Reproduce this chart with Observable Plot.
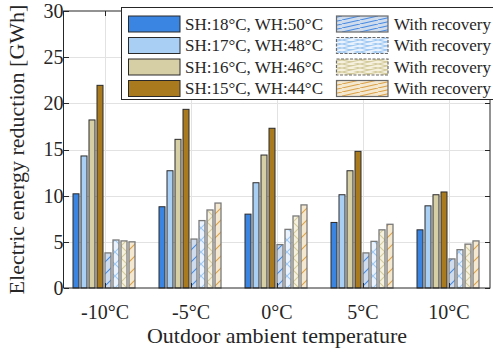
<!DOCTYPE html>
<html><head><meta charset="utf-8">
<script src="https://cdn.jsdelivr.net/npm/d3@7"></script>
<script src="https://cdn.jsdelivr.net/npm/@observablehq/plot@0.6"></script>
<style>
html,body{margin:0;padding:0;background:#fff;}
#chart{position:relative;width:493px;height:354px;overflow:hidden;}
</style></head><body><div id="chart"></div>
<script>
// ---- data ----
const temps = ["-10°C", "-5°C", "0°C", "5°C", "10°C"];
const keys = ["s18", "s17", "s16", "s15", "r18", "r17", "r16", "r15"];
const legendLabels = ["SH:18°C, WH:50°C", "SH:17°C, WH:48°C", "SH:16°C, WH:46°C", "SH:15°C, WH:44°C",
  "With recovery", "With recovery", "With recovery", "With recovery"];
const sh18 = [10.2, 8.8, 8.0, 7.1, 6.3];
const sh17 = [14.3, 12.7, 11.4, 10.1, 8.9];
const sh16 = [18.2, 16.1, 14.4, 12.7, 10.1];
const sh15 = [21.95, 19.35, 17.3, 14.8, 10.4];
const rec18 = [3.8, 5.3, 4.7, 3.8, 3.15];
const rec17 = [5.2, 7.3, 6.35, 5.05, 4.15];
const rec16 = [5.1, 8.45, 7.8, 6.3, 4.75];
const rec15 = [5.0, 9.2, 9.0, 6.9, 5.1];
const yTicks = [0, 5, 10, 15, 20, 25, 30];
const xLabel = "Outdoor ambient temperature";
const yLabel = "Electric energy reduction [GWh]";

// ---- styles ----
const solidColors = ["#3a85e2", "#aacff4", "#d6cea4", "#aa7a1e"];
const hatchBg = ["#cfdcee", "#eaf3fd", "#f6f1df", "#f5e8d0"];
const hatchLine = ["#4a8ce2", "#9fc8f2", "#d4cb9c", "#dba24a"];
const hatchKind = ["diag", "cross", "cross", "diag"];
const fills = [...solidColors, "url(#hp0)", "url(#hp1)", "url(#hp2)", "url(#hp3)"];

const seriesValues = [sh18, sh17, sh16, sh15, rec18, rec17, rec16, rec15];
const rows = [];
keys.forEach((k, i) => temps.forEach((t, j) => rows.push({temp: t, key: k, value: seriesValues[i][j], hatched: i >= 4})));

const FONT = "Liberation Serif, Times New Roman, serif";
const W = 493, H = 354;
const plot = Plot.plot({
  width: W, height: H,
  marginLeft: 64, marginRight: 3, marginTop: 11, marginBottom: 66,
  style: {fontFamily: FONT, fontSize: "20px", color: "#262626", background: "#fff", overflow: "visible"},
  fx: {domain: temps, paddingInner: 0.22, paddingOuter: 0.06, label: null, tickSize: 0, tickPadding: 16},
  x: {domain: keys, paddingInner: 0.2, paddingOuter: 0.08, axis: null},
  y: {domain: [0, 30], ticks: yTicks, tickSize: 0, tickPadding: 8, label: null},
  color: {domain: keys, range: fills},
  marks: [
    Plot.barY(rows.filter(d => !d.hatched), {fx: "temp", x: "key", y: "value", fill: "key", stroke: "#2a2a2a", strokeWidth: 1}),
    Plot.barY(rows.filter(d => d.hatched), {fx: "temp", x: "key", y: "value", fill: "key", stroke: "#7a7a7a", strokeWidth: 1.3})
  ]
});
document.getElementById("chart").appendChild(plot);

const svg = d3.select(plot);
svg.selectAll("text").attr("font-family", FONT).attr("font-size", 20).attr("fill", "#262626");
const ys = plot.scale("y");
const fxs = plot.scale("fx");
const y0 = ys.apply(0), y30 = ys.apply(30);
const xL = 64, xR = W - 3;

// patterns
const defs = svg.insert("defs", ":first-child");
function addPattern(id, bg, line, kind, w, h) {
  const p = defs.append("pattern").attr("id", id).attr("patternUnits", "userSpaceOnUse")
    .attr("width", w).attr("height", h);
  p.append("rect").attr("width", w).attr("height", h).attr("fill", bg);
  const up = `M0,${h} L${w},0 M${-w},${h} L0,0 M${w},${h} L${2*w},0`;
  const down = `M0,0 L${w},${h} M${-w},0 L0,${h} M${w},0 L${2*w},${h}`;
  p.append("path").attr("d", kind === "cross" ? up + " " + down : up)
    .attr("stroke", line).attr("stroke-width", 1.1).attr("fill", "none");
}
for (let i = 0; i < 4; i++) {
  addPattern("hp" + i, hatchBg[i], hatchLine[i], hatchKind[i], 12, 12);
  addPattern("lp" + i, hatchBg[i], hatchLine[i], hatchKind[i], 18, 4);
}

// grid (behind bars)
const grid = svg.insert("g", "g").attr("stroke", "#e2e2e2").attr("stroke-width", 1);
yTicks.filter(v => v > 0 && v < 30).forEach(v => {
  const y = Math.round(ys.apply(v)) + 0.5;
  grid.append("line").attr("x1", xL).attr("x2", xR).attr("y1", y).attr("y2", y);
});
temps.forEach(t => {
  const x = Math.round(fxs.apply(t) + fxs.bandwidth / 2) + 0.5;
  grid.append("line").attr("x1", x).attr("x2", x).attr("y1", y30).attr("y2", y0);
});

// frame and inward ticks
const fr = svg.append("g").attr("stroke", "#262626").attr("stroke-width", 1).attr("fill", "none");
fr.append("rect").attr("x", xL - 0.5).attr("y", y30).attr("width", xR - xL + 0.5).attr("height", y0 - y30);
yTicks.forEach(v => {
  const y = Math.round(ys.apply(v)) + 0.5;
  fr.append("line").attr("x1", xL).attr("x2", xL + 5).attr("y1", y).attr("y2", y);
  fr.append("line").attr("x1", xR).attr("x2", xR - 5).attr("y1", y).attr("y2", y);
});
temps.forEach(t => {
  const x = Math.round(fxs.apply(t) + fxs.bandwidth / 2) + 0.5;
  fr.append("line").attr("x1", x).attr("x2", x).attr("y1", y0).attr("y2", y0 - 5);
  fr.append("line").attr("x1", x).attr("x2", x).attr("y1", y30).attr("y2", y30 + 5);
});

// axis titles
svg.append("text").attr("x", (xL + xR) / 2).attr("y", 342.5).attr("text-anchor", "middle")
  .attr("font-family", FONT).attr("font-size", 22).attr("fill", "#262626").text(xLabel);
svg.append("text").attr("transform", `translate(23.5,${(y0 + y30) / 2}) rotate(-90)`).attr("text-anchor", "middle")
  .attr("font-family", FONT).attr("font-size", 22).attr("fill", "#262626").text(yLabel);

// legend
const lg = svg.append("g").attr("font-family", FONT).attr("font-size", 17).attr("fill", "#262626")
  .attr("text-anchor", "start");
lg.append("rect").attr("x", 121.5).attr("y", 7.5).attr("width", 400).attr("height", 92)
  .attr("fill", "#fff").attr("stroke", "#262626").attr("stroke-width", 1);
const rowY = [24, 45.5, 67, 88.5];
for (let i = 0; i < 4; i++) {
  const cy = rowY[i];
  lg.append("rect").attr("x", 128.5).attr("y", cy - 8).attr("width", 51.5).attr("height", 16)
    .attr("fill", solidColors[i]).attr("stroke", "#2a2a2a").attr("stroke-width", 1);
  lg.append("text").attr("x", 185).attr("y", cy).attr("dy", "0.35em").attr("text-anchor", "start").text(legendLabels[i]);
  lg.append("rect").attr("x", 336.5).attr("y", cy - 8).attr("width", 51.5).attr("height", 16)
    .attr("fill", `url(#lp${i})`).attr("stroke", "#6a6a6a").attr("stroke-width", 1.2)
    .attr("stroke-dasharray", i === 1 || i === 2 ? "3,1.5" : null);
  lg.append("text").attr("x", 394).attr("y", cy).attr("dy", "0.35em").attr("text-anchor", "start").text(legendLabels[i + 4]);
}
</script></body></html>
